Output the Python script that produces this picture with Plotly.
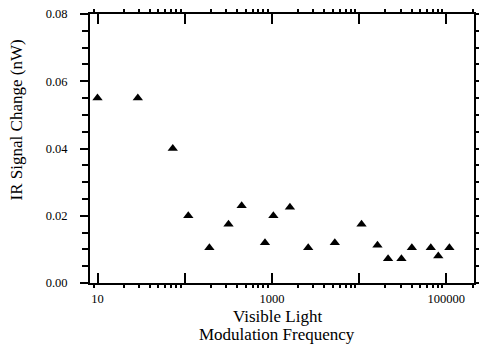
import plotly.graph_objects as go

freq = [10, 29, 73, 110, 192, 318, 450, 833, 1040, 1610, 2610, 5270,
        10670, 16250, 21500, 30600, 40300, 66400, 81000, 108600]
signal = [0.055, 0.055, 0.040, 0.020, 0.0105, 0.0175, 0.023, 0.012, 0.020,
          0.0225, 0.0105, 0.012, 0.0175, 0.0112, 0.0072, 0.0072, 0.0105,
          0.0105, 0.008, 0.0105]

x_tickvals = [10, 100, 1000, 10000, 100000]
x_ticktext = ["10", "", "1000", "", "100000"]
x_minor = [m * 10 ** k for k in range(0, 6) for m in range(2, 10)]
y_tickvals = [0.0, 0.02, 0.04, 0.06, 0.08]
y_ticktext = ["0.00", "0.02", "0.04", "0.06", "0.08"]
x_title_lines = ["Visible Light", "Modulation Frequency"]
y_title = "IR Signal Change (nW)"

font = "Liberation Serif"
tickfont = dict(family=font, size=12.5, color="black")

fig = go.Figure(
    go.Scatter(
        x=freq, y=signal, mode="markers",
        marker=dict(symbol="triangle-up", size=9, color="black"),
        showlegend=False,
    )
)

fig.update_layout(
    width=479, height=345,
    margin=dict(l=90, r=5, t=14, b=62, autoexpand=False),
    paper_bgcolor="white", plot_bgcolor="white",
    font=dict(family=font, color="black", size=12.5),
    hovermode=False,
)

fig.update_xaxes(
    type="log", range=[0.914, 5.318], automargin=False,
    tickmode="array", tickvals=x_tickvals, ticktext=x_ticktext,
    tickfont=tickfont,
    ticks="inside", ticklen=10, tickwidth=2, tickcolor="black",
    minor=dict(tickmode="array", tickvals=x_minor, ticks="outside",
               ticklen=3, tickwidth=2, tickcolor="black", showgrid=False),
    showline=True, linewidth=2, linecolor="black", mirror="ticks",
    showgrid=False, zeroline=False,
    ticklabelstandoff=3,
)

fig.update_yaxes(
    range=[0, 0.08], automargin=False,
    tickmode="array", tickvals=y_tickvals, ticktext=y_ticktext,
    tickfont=tickfont,
    ticks="outside", ticklen=8, tickwidth=2, tickcolor="black",
    minor=dict(dtick=0.005, ticks="outside", ticklen=6, tickwidth=2,
               tickcolor="black", showgrid=False),
    showline=True, linewidth=2, linecolor="black", mirror="ticks",
    showgrid=False, zeroline=False,
    ticklabelstandoff=10,
)

# axis titles placed as annotations to match the reference positions
fig.add_annotation(text=x_title_lines[0], xref="paper", yref="paper",
                   x=0.487, y=-0.124, xanchor="center", yanchor="middle",
                   showarrow=False, font=dict(size=17, family=font))
fig.add_annotation(text=x_title_lines[1], xref="paper", yref="paper",
                   x=0.487, y=-0.193, xanchor="center", yanchor="middle",
                   showarrow=False, font=dict(size=17, family=font))
fig.add_annotation(text=y_title, xref="paper", yref="paper",
                   x=-0.189, y=0.606, xanchor="center", yanchor="middle",
                   showarrow=False, textangle=-90,
                   font=dict(size=17, family=font))

fig.write_html("out.html",
               config={"displayModeBar": False},
               post_script="document.body.style.margin='0';")
